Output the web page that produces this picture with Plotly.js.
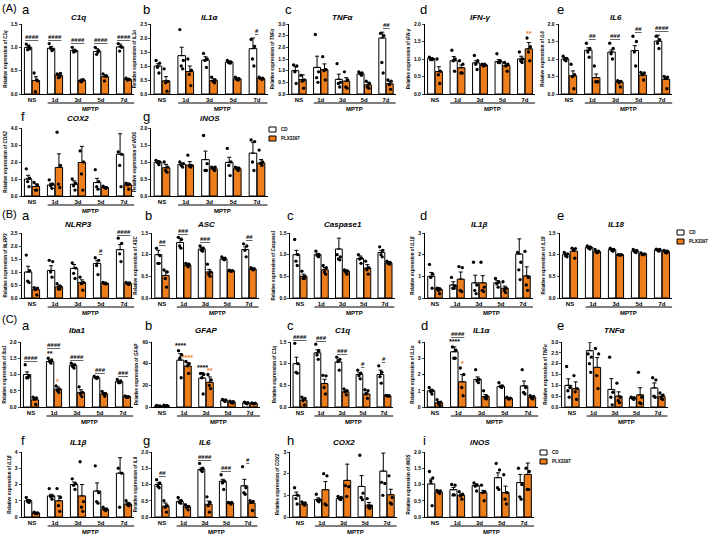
<!DOCTYPE html>
<html>
<head>
<meta charset="utf-8">
<script src="https://cdn.plot.ly/plotly-3.0.1.min.js"></script>
<style>
  body { margin: 0; background: #fff; }
  #chart { width: 709px; height: 538px; }
</style>
</head>
<body>
<div id="chart"></div>
<script>
/* ---- data: mean / SEM / individual animals, CD vs PLX3397 ---- */
var groups = ['NS', '1d', '3d', '5d', '7d'];

// sig: [group, text, kind]  kind p = CD vs PLX (#), c = over CD bar, o = orange over PLX bar
var A_C1q = {
  cd: [1.0, 0.98, 0.93, 0.91, 1.01], cdSe: [0.05, 0.04, 0.03, 0.06, 0.06],
  plx: [0.29, 0.40, 0.29, 0.37, 0.31], plxSe: [0.08, 0.04, 0.03, 0.04, 0.01],
  cdPts: [[1.07, 0.97, 0.95, 1.02], [1.08, 0.95, 0.98, 0.93], [1.0, 0.92, 0.9, 0.93], [1.0, 0.93, 0.85, 0.9], [1.08, 1.0, 0.92, 1.02]],
  plxPts: [[0.45, 0.28, 0.05, 0.30], [0.43, 0.44, 0.35, 0.37], [0.28, 0.3, 0.26, 0.3], [0.43, 0.39, 0.28, 0.38], [0.34, 0.31, 0.3, 0.32]],
  sig: [[0, '####', 'p'], [1, '####', 'p'], [2, '####', 'p'], [3, '####', 'p'], [4, '####', 'p']]
};
var A_IL1a = {
  cd: [1.0, 1.37, 1.21, 1.14, 1.62], cdSe: [0.08, 0.3, 0.12, 0.04, 0.38],
  plx: [0.47, 0.8, 0.48, 0.54, 0.55], plxSe: [0.15, 0.2, 0.06, 0.04, 0.02],
  cdPts: [[1.2, 1.1, 0.95, 0.75], [2.3, 1.2, 1.0, 0.9], [1.45, 1.25, 1.2, 0.95], [1.2, 1.15, 1.12, 1.1], [1.95, 1.7, 1.25, 1.0]],
  plxPts: [[0.9, 0.45, 0.4, 0.1], [1.25, 0.85, 0.7, 0.3], [0.6, 0.5, 0.45, 0.4], [0.6, 0.55, 0.52, 0.5], [0.6, 0.57, 0.55, 0.52]],
  sig: [[4, '#', 'p']]
};
var A_TNFa = {
  cd: [1.0, 1.14, 0.63, 0.86, 2.4], cdSe: [0.17, 0.48, 0.22, 0.05, 0.25],
  plx: [0.62, 1.04, 0.55, 0.39, 0.44], plxSe: [0.2, 0.25, 0.15, 0.12, 0.1],
  cdPts: [[1.25, 1.2, 0.95, 0.45], [2.55, 0.95, 0.7, 0.5], [1.3, 0.5, 0.45, 0.3], [0.95, 0.9, 0.88, 0.8], [2.6, 2.5, 1.35, 0.9]],
  plxPts: [[0.8, 0.6, 0.55, 0.25], [1.6, 1.05, 1.0, 0.6], [0.95, 0.6, 0.3, 0.25], [0.55, 0.45, 0.3, 0.25], [0.6, 0.55, 0.4, 0.2]],
  sig: [[4, '##', 'p']]
};
var A_IFNg = {
  cd: [1.01, 0.95, 0.89, 0.93, 1.0], cdSe: [0.03, 0.12, 0.06, 0.05, 0.08],
  plx: [0.64, 0.75, 0.83, 0.81, 1.29], plxSe: [0.14, 0.08, 0.03, 0.05, 0.18],
  cdPts: [[1.05, 1.0, 0.98, 0.98], [1.25, 1.0, 0.95, 0.65], [1.1, 0.95, 0.85, 0.7], [1.15, 0.95, 0.9, 0.9], [1.2, 1.0, 0.95, 0.9]],
  plxPts: [[1.0, 0.65, 0.55, 0.3], [0.95, 0.85, 0.6, 0.6], [0.85, 0.82, 0.8, 0.85], [0.9, 0.85, 0.8, 0.65], [1.6, 1.35, 1.2, 0.95]],
  sig: [[4, '**', 'o']]
};
var A_IL6 = {
  cd: [1.0, 1.25, 1.2, 1.24, 1.51], cdSe: [0.04, 0.07, 0.06, 0.14, 0.17],
  plx: [0.52, 0.47, 0.34, 0.54, 0.42], plxSe: [0.14, 0.1, 0.04, 0.04, 0.05],
  cdPts: [[1.08, 1.02, 0.98, 0.95], [1.45, 1.3, 1.2, 1.05], [1.45, 1.3, 1.15, 1.0], [1.65, 1.5, 1.2, 0.8], [1.65, 1.55, 1.45, 1.3]],
  plxPts: [[0.85, 0.55, 0.5, 0.15], [0.8, 0.35, 0.35, 0.35], [0.38, 0.36, 0.32, 0.2], [0.62, 0.6, 0.55, 0.4], [0.5, 0.48, 0.45, 0.15]],
  sig: [[1, '##', 'p'], [2, '###', 'p'], [3, '##', 'p'], [4, '####', 'p']]
};
var A_COX2 = {
  cd: [1.0, 0.65, 0.69, 0.79, 2.46], cdSe: [0.22, 0.1, 0.2, 0.25, 1.2],
  plx: [0.56, 1.68, 1.97, 0.5, 0.66], plxSe: [0.15, 0.8, 0.95, 0.05, 0.1],
  cdPts: [[1.6, 1.05, 0.85, 0.55], [0.95, 0.7, 0.6, 0.45], [1.0, 0.75, 0.6, 0.35], [1.55, 0.85, 0.55, 0.4], [2.6, 2.45, 1.8, 0.55]],
  plxPts: [[0.8, 0.65, 0.35, 0.35], [3.75, 1.8, 0.7, 0.5], [2.65, 2.0, 1.3, 0.35], [0.58, 0.5, 0.5, 0.45], [0.75, 0.7, 0.65, 0.4]],
  sig: []
};
var A_iNOS = {
  cd: [0.99, 0.93, 1.07, 0.99, 1.26], cdSe: [0.05, 0.04, 0.25, 0.15, 0.32],
  plx: [0.83, 0.91, 0.8, 0.8, 0.97], plxSe: [0.1, 0.1, 0.05, 0.05, 0.1],
  cdPts: [[1.05, 1.0, 0.98, 0.92], [1.0, 0.95, 0.9, 0.85], [1.78, 0.95, 0.75, 0.75], [1.4, 1.0, 0.9, 0.6], [1.65, 1.6, 1.0, 0.75]],
  plxPts: [[1.0, 0.85, 0.75, 0.7], [1.2, 0.9, 0.88, 0.85], [0.85, 0.85, 0.8, 0.75], [0.85, 0.82, 0.8, 0.75], [1.35, 1.0, 0.95, 0.9]],
  sig: []
};
var B_NLRP3 = {
  cd: [1.0, 1.06, 1.14, 1.33, 1.86], cdSe: [0.22, 0.18, 0.15, 0.12, 0.2],
  plx: [0.32, 0.43, 0.6, 0.56, 0.56], plxSe: [0.06, 0.07, 0.1, 0.05, 0.03],
  cdPts: [[1.65, 1.05, 0.65, 0.6], [1.45, 1.4, 1.0, 0.8], [1.35, 1.15, 0.95, 0.75], [1.55, 1.45, 1.25, 0.9], [2.3, 2.1, 1.7, 1.4]],
  plxPts: [[0.4, 0.38, 0.32, 0.12], [0.55, 0.45, 0.35, 0.35], [0.8, 0.6, 0.55, 0.3], [0.6, 0.55, 0.55, 0.55], [0.6, 0.58, 0.55, 0.52]],
  sig: [[3, '#', 'p'], [4, '####', 'p']]
};
var B_ASC = {
  cd: [1.0, 1.28, 1.13, 0.9, 1.12], cdSe: [0.1, 0.1, 0.04, 0.03, 0.06],
  plx: [0.52, 0.76, 0.6, 0.63, 0.67], plxSe: [0.1, 0.04, 0.06, 0.01, 0.02],
  cdPts: [[1.15, 0.98, 0.8, 0.8], [1.4, 1.35, 1.2, 1.15], [1.2, 1.15, 1.1, 1.08], [0.95, 0.92, 0.9, 0.88], [1.25, 1.2, 1.1, 0.95]],
  plxPts: [[0.65, 0.6, 0.45, 0.25], [0.8, 0.78, 0.75, 0.72], [0.78, 0.6, 0.55, 0.5], [0.64, 0.63, 0.62, 0.62], [0.7, 0.68, 0.66, 0.65]],
  sig: [[0, '##', 'p'], [1, '###', 'p'], [2, '###', 'p'], [4, '##', 'p']]
};
var B_Casp1 = {
  cd: [1.0, 1.0, 1.13, 0.91, 1.05], cdSe: [0.1, 0.03, 0.25, 0.06, 0.05],
  plx: [0.5, 0.65, 0.62, 0.69, 0.81], plxSe: [0.05, 0.05, 0.03, 0.08, 0.03],
  cdPts: [[1.35, 1.0, 0.85, 0.75], [1.08, 1.0, 0.98, 0.95], [1.0, 0.95, 0.9, 0.88], [1.0, 0.92, 0.9, 0.8], [1.18, 1.1, 1.0, 0.95]],
  plxPts: [[0.62, 0.5, 0.45, 0.45], [0.75, 0.7, 0.6, 0.55], [0.65, 0.62, 0.6, 0.55], [0.85, 0.7, 0.65, 0.55], [0.85, 0.82, 0.8, 0.78]],
  sig: []
};
var B_IL1b = {
  cd: [1.0, 0.6, 0.7, 0.7, 2.03], cdSe: [0.18, 0.15, 0.35, 0.1, 0.7],
  plx: [0.4, 0.87, 0.7, 0.45, 1.02], plxSe: [0.08, 0.33, 0.33, 0.1, 0.42],
  cdPts: [[1.55, 1.1, 0.95, 0.45], [0.95, 0.55, 0.45, 0.45], [1.65, 0.6, 0.35, 0.2], [0.9, 0.75, 0.65, 0.5], [2.1, 1.65, 1.3, 0.85]],
  plxPts: [[0.45, 0.4, 0.35, 0.2], [1.45, 1.4, 0.35, 0.3], [1.65, 0.5, 0.35, 0.3], [0.75, 0.45, 0.35, 0.25], [2.15, 0.95, 0.6, 0.35]],
  sig: []
};
var B_IL18 = {
  cd: [1.0, 1.17, 1.12, 1.08, 1.11], cdSe: [0.03, 0.03, 0.02, 0.02, 0.02],
  plx: [1.08, 1.07, 1.0, 1.02, 1.07], plxSe: [0.06, 0.02, 0.01, 0.01, 0.03],
  cdPts: [[1.05, 1.02, 0.97, 0.95], [1.2, 1.17, 1.15, 1.13], [1.15, 1.12, 1.1, 1.08], [1.12, 1.1, 1.07, 1.05], [1.13, 1.12, 1.1, 1.08]],
  plxPts: [[1.15, 1.14, 1.1, 0.92], [1.12, 1.08, 1.05, 1.05], [1.0, 1.0, 0.99, 0.99], [1.04, 1.02, 1.0, 1.0], [1.1, 1.08, 1.05, 1.04]],
  sig: []
};
var C_Iba1 = {
  cd: [1.0, 1.4, 1.28, 0.9, 0.78], cdSe: [0.08, 0.04, 0.04, 0.03, 0.03],
  plx: [0.22, 0.55, 0.45, 0.4, 0.32], plxSe: [0.05, 0.07, 0.08, 0.04, 0.02],
  cdPts: [[1.3, 0.95, 0.9, 0.9], [1.5, 1.45, 1.4, 1.35], [1.35, 1.3, 1.25, 1.2], [0.95, 0.92, 0.9, 0.88], [0.85, 0.8, 0.75, 0.75]],
  plxPts: [[0.3, 0.28, 0.25, 0.08], [0.65, 0.55, 0.5, 0.45], [0.62, 0.45, 0.4, 0.32], [0.48, 0.42, 0.4, 0.33], [0.34, 0.32, 0.3, 0.3]],
  sig: [[0, '####', 'p'], [1, '*', 'o'], [1, '**', 'c'], [1, '####', 'p'], [2, '####', 'p'], [3, '###', 'p'], [4, '###', 'p']]
};
var C_GFAP = {
  cd: [1.0, 43.3, 26.7, 6.0, 3.8], cdSe: [0.3, 6, 5, 0.8, 0.5],
  plx: [1.3, 37.8, 22.8, 4.5, 3.3], plxSe: [0.3, 3, 5, 0.8, 0.3],
  cdPts: [[1.5, 1.0, 0.8, 0.6], [52, 48, 45, 27], [31, 30, 27, 12], [7, 6.5, 6, 5], [4.5, 4, 3.5, 3]],
  plxPts: [[1.8, 1.3, 1.0, 0.9], [42, 40, 38, 31], [30, 25, 20, 17], [5.5, 5, 4, 3.5], [3.7, 3.5, 3.2, 3.0]],
  sig: [[1, '****', 'c'], [1, '****', 'o'], [2, '****', 'c'], [2, '**', 'o']]
};
var C_C1q = {
  cd: [1.0, 1.25, 1.04, 0.75, 0.75], cdSe: [0.15, 0.07, 0.05, 0.04, 0.1],
  plx: [0.16, 0.54, 0.35, 0.3, 0.26], plxSe: [0.04, 0.1, 0.04, 0.04, 0.01],
  cdPts: [[1.47, 1.0, 0.8, 0.78], [1.45, 1.3, 1.2, 1.1], [1.15, 1.1, 1.05, 0.85], [0.85, 0.78, 0.72, 0.65], [0.95, 0.8, 0.7, 0.55]],
  plxPts: [[0.23, 0.2, 0.15, 0.05], [0.73, 0.72, 0.45, 0.3], [0.42, 0.38, 0.35, 0.28], [0.4, 0.38, 0.3, 0.2], [0.27, 0.26, 0.26, 0.25]],
  sig: [[0, '####', 'p'], [1, '###', 'p'], [2, '###', 'p'], [3, '#', 'p'], [4, '#', 'p']]
};
var C_IL1a = {
  cd: [1.0, 3.4, 1.7, 1.26, 1.3], cdSe: [0.1, 0.3, 0.15, 0.08, 0.3],
  plx: [0.26, 1.55, 0.65, 0.54, 0.6], plxSe: [0.08, 0.45, 0.12, 0.04, 0.06],
  cdPts: [[1.2, 1.0, 0.95, 0.8], [3.7, 3.5, 3.0, 3.0], [2.3, 1.7, 1.6, 1.5], [1.5, 1.3, 1.25, 1.2], [2.3, 1.2, 0.9, 0.8]],
  plxPts: [[0.45, 0.3, 0.2, 0.1], [2.4, 2.0, 1.2, 0.7], [1.0, 0.65, 0.55, 0.5], [0.6, 0.55, 0.5, 0.5], [0.7, 0.65, 0.55, 0.5]],
  sig: [[1, '*', 'o'], [1, '****', 'c'], [1, '####', 'p']]
};
var C_TNFa = {
  cd: [1.0, 2.6, 0.81, 0.4, 0.88], cdSe: [0.3, 0.4, 0.5, 0.06, 0.23],
  plx: [0.84, 1.83, 0.5, 0.56, 0.48], plxSe: [0.32, 0.45, 0.2, 0.33, 0.08],
  cdPts: [[1.87, 0.9, 0.75, 0.45], [2.45, 2.3, 2.0, 1.6], [2.3, 0.68, 0.45, 0.1], [0.45, 0.42, 0.4, 0.35], [1.35, 1.25, 0.5, 0.45]],
  plxPts: [[1.45, 0.85, 0.7, 0.35], [2.7, 2.45, 1.45, 0.85], [1.1, 0.45, 0.3, 0.2], [1.6, 0.45, 0.2, 0.15], [0.65, 0.55, 0.4, 0.35]],
  sig: []
};
var C_IL1b = {
  cd: [1.0, 1.3, 2.0, 1.6, 2.7], cdSe: [0.08, 0.1, 0.15, 0.5, 0.95],
  plx: [0.25, 1.0, 1.3, 0.48, 0.8], plxSe: [0.04, 0.3, 0.7, 0.05, 0.1],
  cdPts: [[1.2, 1.0, 0.95, 0.9], [1.75, 1.3, 1.25, 1.1], [2.35, 2.05, 1.95, 1.7], [3.15, 1.5, 0.95, 0.85], [3.0, 2.7, 0.6]],
  plxPts: [[0.3, 0.25, 0.22, 0.2], [1.75, 1.2, 0.7, 0.35], [3.4, 0.95, 0.6, 0.35], [0.6, 0.5, 0.45, 0.4], [1.0, 0.8, 0.75, 0.7]],
  sig: []
};
var C_IL6 = {
  cd: [1.0, 0.48, 1.46, 1.1, 0.96], cdSe: [0.05, 0.05, 0.05, 0.06, 0.2],
  plx: [0.33, 0.31, 0.39, 0.43, 0.43], plxSe: [0.1, 0.04, 0.1, 0.02, 0.05],
  cdPts: [[1.15, 1.05, 0.95, 0.9], [0.6, 0.5, 0.45, 0.42], [1.65, 1.5, 1.45, 1.4], [1.3, 1.1, 1.05, 0.85], [1.55, 0.9, 0.75, 0.7]],
  plxPts: [[0.5, 0.35, 0.3, 0.15], [0.38, 0.33, 0.3, 0.22], [0.62, 0.45, 0.35, 0.15], [0.45, 0.45, 0.43, 0.4], [0.5, 0.48, 0.45, 0.2]],
  sig: [[0, '##', 'p'], [2, '####', 'p'], [3, '###', 'p'], [4, '#', 'p']]
};
var C_COX2 = {
  cd: [1.0, 0.8, 0.85, 1.41, 2.12], cdSe: [0.15, 0.08, 0.06, 0.5, 0.83],
  plx: [0.6, 1.26, 1.69, 0.55, 1.03], plxSe: [0.05, 0.38, 0.75, 0.12, 0.25],
  cdPts: [[1.35, 1.0, 0.85, 0.6], [1.05, 0.8, 0.75, 0.7], [0.95, 0.9, 0.85, 0.8], [2.85, 1.1, 0.9, 0.8], [1.6, 1.55, 1.0]],
  plxPts: [[0.7, 0.65, 0.6, 0.55], [2.0, 1.9, 0.6, 0.55], [1.45, 1.4, 0.95], [0.85, 0.5, 0.45, 0.4], [1.9, 0.9, 0.65, 0.6]],
  sig: []
};
var C_iNOS = {
  cd: [1.02, 0.84, 0.97, 1.21, 1.06], cdSe: [0.15, 0.07, 0.05, 0.15, 0.25],
  plx: [0.77, 0.67, 0.75, 0.75, 1.31], plxSe: [0.04, 0.04, 0.07, 0.2, 0.35],
  cdPts: [[1.4, 1.2, 1.1, 0.35], [1.0, 0.98, 0.68, 0.68], [1.05, 0.98, 0.95, 0.8], [1.65, 1.45, 0.9, 0.85], [1.5, 1.0, 0.62, 0.55]],
  plxPts: [[0.82, 0.8, 0.76, 0.72], [0.78, 0.7, 0.65, 0.55], [0.98, 0.78, 0.75, 0.5], [1.3, 0.75, 0.55, 0.4], [1.5, 1.4, 0.85, 0.85]],
  sig: []
};

/* ---- page layout (pixel positions of each panel) ---- */
var W = 709, H = 538;
var ORANGE = '#EE7D1B';
var FONT = 'Liberation Sans, Arial, sans-serif';

var rows = {
  A1: { top: 24,  bot: 94,  title: 17,  letter: 10 },
  A2: { top: 128, bot: 196, title: 118, letter: 116 },
  B:  { top: 233, bot: 298, title: 224, letter: 216 },
  C1: { top: 342, bot: 407, title: 330, letter: 325 },
  C2: { top: 452, bot: 517, title: 442, letter: 440 }
};

// data, gene, row, NS centre px, 7d centre px, letter, letter px, y max, dtick, tick format
var cells = [
  [A_C1q,   'C1q',      'A1', 32,  124, 'a', 20,  1.5, 0.5, '.1f'],
  [A_IL1a,  'IL1α',     'A1', 162, 257, 'b', 141, 2.5, 0.5, '.1f'],
  [A_TNFa,  'TNFα',     'A1', 299, 386, 'c', 283, 3.0, 0.5, '.1f'],
  [A_IFNg,  'IFN-γ',    'A1', 435, 525, 'd', 418, 2.0, 0.5, '.1f'],
  [A_IL6,   'IL6',      'A1', 569, 662, 'e', 555, 2.0, 0.5, '.1f'],
  [A_COX2,  'COX2',     'A2', 32,  124, 'f', 19,  4.0, 1.0, '.1f'],
  [A_iNOS,  'iNOS',     'A2', 162, 257, 'g', 141, 2.0, 0.5, '.1f'],
  [B_NLRP3, 'NLRP3',    'B',  32,  124, 'a', 20,  2.5, 0.5, '.1f'],
  [B_ASC,   'ASC',      'B',  162, 249, 'b', 143, 1.5, 0.5, '.1f'],
  [B_Casp1, 'Caspase1', 'B',  300, 385, 'c', 285, 1.5, 0.5, '.1f'],
  [B_IL1b,  'IL1β',     'B',  435, 523, 'd', 418, 3,   1,   'd'],
  [B_IL18,  'IL18',     'B',  570, 662, 'e', 555, 1.5, 0.5, '.1f'],
  [C_Iba1,  'Iba1',     'C1', 31,  123, 'a', 20,  2.0, 0.5, '.1f'],
  [C_GFAP,  'GFAP',     'C1', 162, 250, 'b', 143, 60,  20,  'd'],
  [C_C1q,   'C1q',      'C1', 300, 384, 'c', 285, 1.5, 0.5, '.1f'],
  [C_IL1a,  'IL1α',     'C1', 435, 528, 'd', 419, 4,   1,   'd'],
  [C_TNFa,  'TNFα',     'C1', 572, 658, 'e', 555, 3.0, 0.5, '.1f'],
  [C_IL1b,  'IL1β',     'C2', 32,  124, 'f', 19,  4,   1,   'd'],
  [C_IL6,   'IL6',      'C2', 162, 248, 'g', 141, 2.0, 0.5, '.1f'],
  [C_COX2,  'COX2',     'C2', 300, 387, 'h', 285, 3,   1,   'd'],
  [C_iNOS,  'iNOS',     'C2', 435, 524, 'i', 421, 2.0, 0.5, '.1f']
];

var OFF = 0.17, BW = 0.32;
var jitter = [-0.08, 0.07, -0.02, 0.04, -0.05];

function px(x) { return x / W; }
function py(y) { return 1 - y / H; }

var traces = [], shapes = [], annotations = [];
var layout = {
  width: W, height: H,
  margin: { l: 0, r: 0, t: 0, b: 0 },
  paper_bgcolor: '#fff', plot_bgcolor: 'rgba(0,0,0,0)',
  showlegend: false, barmode: 'overlay',
  font: { family: FONT, color: '#000' }
};

function ann(o) {
  var base = { showarrow: false, xanchor: 'center', yanchor: 'middle',
               font: { family: FONT, size: 6, color: '#000' } };
  for (var k in o) base[k] = o[k];
  annotations.push(base);
}

cells.forEach(function(c, k) {
  var d = c[0], gene = c[1], row = rows[c[2]];
  var ns = c[3], last = c[4], ymax = c[7], dtick = c[8], fmt = c[9];
  var n = k + 1, sfx = n === 1 ? '' : String(n);
  var xa = 'x' + sfx, ya = 'y' + sfx;
  var step = (last - ns) / 4;
  var x0 = ns - 0.45 * step, x1 = last + 0.45 * step;
  var ppu = (row.bot - row.top) / ymax;   // px per unit, only for marks above the axis top

  var zeros = d.cd.map(function() { return 0; });
  var err = { type: 'data', symmetric: false, arrayminus: zeros, color: '#000', thickness: 1, width: 2 };
  var cdErr = Object.assign({}, err, { array: d.cdSe });
  var plxErr = Object.assign({}, err, { array: d.plxSe });

  traces.push({
    type: 'bar', xaxis: xa, yaxis: ya, width: BW,
    x: groups.map(function(g, i) { return i - OFF; }), y: d.cd,
    marker: { color: '#fff', line: { color: '#000', width: 1 } },
    error_y: cdErr, hoverinfo: 'skip'
  });
  traces.push({
    type: 'bar', xaxis: xa, yaxis: ya, width: BW,
    x: groups.map(function(g, i) { return i + OFF; }), y: d.plx,
    marker: { color: ORANGE, line: { color: '#000', width: 1 } },
    error_y: plxErr, hoverinfo: 'skip'
  });

  // individual animals
  [[d.cdPts, -OFF], [d.plxPts, OFF]].forEach(function(s) {
    var xs = [], ys = [];
    s[0].forEach(function(pts, i) {
      pts.forEach(function(v, j) { xs.push(i + s[1] + jitter[j]); ys.push(v); });
    });
    traces.push({
      type: 'scatter', mode: 'markers', xaxis: xa, yaxis: ya, x: xs, y: ys,
      marker: { color: '#000', size: 3.3 }, cliponaxis: false, hoverinfo: 'skip'
    });
  });

  var tv = [];
  for (var t = 0; t <= ymax + 1e-9; t += dtick) tv.push(+t.toFixed(3));

  layout['xaxis' + sfx] = {
    domain: [px(x0), px(x1)], range: [-0.45, 4.45], anchor: ya,
    tickvals: [0, 1, 2, 3, 4], ticktext: groups, ticks: '',
    showline: true, linecolor: '#000', linewidth: 1,
    showgrid: false, zeroline: false, fixedrange: true,
    tickfont: { family: FONT, size: 6, weight: 'bold' }
  };
  layout['yaxis' + sfx] = {
    domain: [py(row.bot), py(row.top)], range: [0, ymax], anchor: xa,
    tickvals: tv, tickformat: fmt, ticks: 'outside', ticklen: 2, tickwidth: 1,
    showline: true, linecolor: '#000', linewidth: 1,
    showgrid: false, zeroline: false, fixedrange: true,
    tickfont: { family: FONT, size: 5, weight: 'bold' },
    title: { text: 'Relative expression of <i>' + gene + '</i>', standoff: 3,
             font: { family: FONT, size: 4.5, weight: 'bold' } }
  };

  // MPTP bracket
  shapes.push({ type: 'line', xref: xa, yref: 'paper', x0: 0.68, x1: 4.45,
                y0: py(row.bot + 9), y1: py(row.bot + 9), line: { color: '#000', width: 1 } });
  ann({ xref: xa, yref: 'paper', x: 2.55, y: py(row.bot + 15), text: 'MPTP',
        font: { family: FONT, size: 6, weight: 'bold', color: '#000' } });

  // gene title and panel letter
  ann({ xref: xa + ' domain', yref: 'paper', x: 0.5, y: py(row.title),
        text: '<b><i>' + gene + '</i></b>', font: { family: FONT, size: 8, color: '#000' } });
  ann({ xref: 'paper', yref: 'paper', x: px(c[6]), y: py(row.letter), xanchor: 'left',
        text: c[5], font: { family: FONT, size: 13, color: '#000' } });

  // significance marks (annotations past the axis top are pinned to it and lifted in px)
  function sigAnn(x, y, text, size, color) {
    var shift = -3, yy = y;
    if (y > ymax) { shift += (y - ymax) * ppu; yy = ymax; }
    ann({ xref: xa, yref: ya, x: x, y: yy, yanchor: 'bottom', yshift: shift,
          text: text, font: { family: FONT, size: size, weight: 'bold', color: color } });
  }
  var pad = 0.07 * ymax;
  var cdLev = d.cd.map(function(v, i) { return Math.max(v + d.cdSe[i], Math.max.apply(null, d.cdPts[i])); });
  var plxLev = d.plx.map(function(v, i) { return Math.max(v + d.plxSe[i], Math.max.apply(null, d.plxPts[i])); });
  d.sig.forEach(function(s) {
    var i = s[0], y;
    if (s[2] === 'p') {
      y = Math.max(cdLev[i], plxLev[i]) + pad;
      sigAnn(i, y, '<u>' + s[1] + '</u>', 6, '#000');
      cdLev[i] = plxLev[i] = y + 0.1 * ymax;
    } else if (s[2] === 'c') {
      y = cdLev[i] + pad * 0.6;
      sigAnn(i - OFF, y, s[1], 7, '#000');
      cdLev[i] = y + 0.06 * ymax;
    } else {
      y = plxLev[i] + pad * 0.4;
      sigAnn(i + OFF, y, s[1], 7, ORANGE);
      plxLev[i] = y + 0.06 * ymax;
    }
  });
});

// section labels
[['(A)', 8], ['(B)', 214], ['(C)', 319]].forEach(function(s) {
  ann({ xref: 'paper', yref: 'paper', x: 0, y: py(s[1]), xanchor: 'left',
        text: s[0], font: { family: FONT, size: 11, color: '#000' } });
});

// hand-made legends (one per section)
[[269, 127], [677, 230], [540, 450]].forEach(function(l) {
  [['CD', '#fff', 0], ['PLX3397', ORANGE, 9]].forEach(function(e) {
    var y = l[1] + e[2];
    shapes.push({ type: 'rect', xref: 'paper', yref: 'paper',
                  x0: px(l[0]), x1: px(l[0] + 7), y0: py(y + 5), y1: py(y),
                  fillcolor: e[1], line: { color: '#000', width: 1 } });
    ann({ xref: 'paper', yref: 'paper', x: px(l[0] + 10), y: py(y + 2.5), xanchor: 'left',
          text: e[0], font: { family: FONT, size: 4.5, weight: 'bold', color: '#000' } });
  });
});

layout.shapes = shapes;
layout.annotations = annotations;

Plotly.newPlot('chart', traces, layout, { staticPlot: true, displayModeBar: false });
</script>
</body>
</html>
